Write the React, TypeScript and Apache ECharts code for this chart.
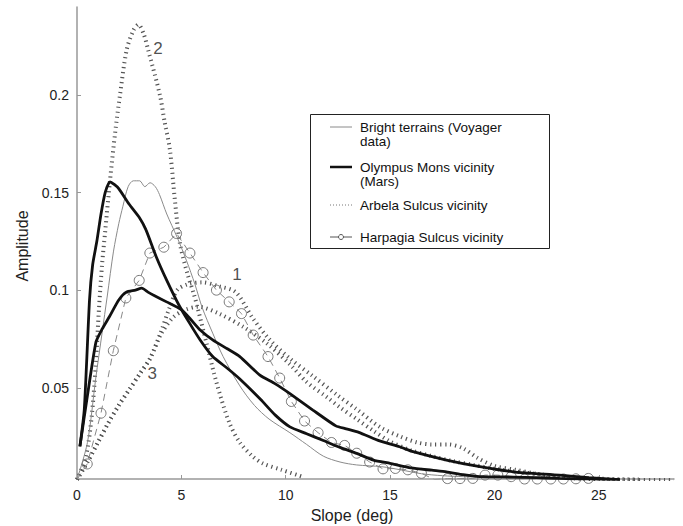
import React, { useEffect, useRef } from "react";
import * as echarts from "echarts";

// Axis tick values
const xTicks = [0, 5, 10, 15, 20, 25];
const yTicks = [0.05, 0.1, 0.15, 0.2];

// Slope-frequency curves: [slope (deg), amplitude]
const brightTerrains: [number, number][] = [
  [0, 0.003], [0.5, 0.022], [0.9, 0.055], [1.2, 0.078], [1.45, 0.097], [1.75, 0.12],
  [2.0, 0.134], [2.2, 0.143], [2.45, 0.153], [2.7, 0.156], [3.0, 0.156], [3.25, 0.153],
  [3.5, 0.155], [3.75, 0.153], [3.95, 0.149], [4.3, 0.139], [4.8, 0.127], [5.25, 0.115],
  [5.65, 0.103], [6.0, 0.091], [6.5, 0.078], [7.0, 0.066], [7.8, 0.051], [8.5, 0.041],
  [9.2, 0.034], [10.2, 0.027], [11.0, 0.021], [11.8, 0.015], [12.6, 0.012], [13.4, 0.0105],
  [14.6, 0.0096], [15.5, 0.008], [16.5, 0.006], [17.5, 0.005], [18.5, 0.0045], [20, 0.004],
  [22, 0.0035], [24, 0.003], [25, 0.003],
];

const olympusSharp: [number, number][] = [
  [0.14, 0.02], [0.35, 0.039], [0.6, 0.095], [0.75, 0.113], [0.95, 0.125], [1.15, 0.139],
  [1.35, 0.15], [1.58, 0.1555], [1.8, 0.154], [2.0, 0.152], [2.5, 0.144], [3.0, 0.137],
  [3.3, 0.131], [3.8, 0.117], [4.3, 0.105], [4.9, 0.092], [5.4, 0.083], [5.9, 0.0745],
  [6.5, 0.066], [7.2, 0.06], [7.8, 0.0545], [8.8, 0.044], [9.5, 0.036], [10.2, 0.03],
  [11.0, 0.0265], [11.8, 0.023], [12.6, 0.0195], [13.4, 0.0164], [14.2, 0.013], [15.0, 0.0113],
  [16.0, 0.009], [17.0, 0.0078], [17.7, 0.007], [18.5, 0.0055], [19.3, 0.0045], [20.9, 0.0043],
  [22, 0.004], [23.1, 0.0036], [24.5, 0.0032], [26, 0.0028],
];

const olympusBroad: [number, number][] = [
  [0.14, 0.02], [0.5, 0.046], [0.91, 0.0735], [1.2, 0.08], [1.55, 0.0864], [2.0, 0.095],
  [2.36, 0.099], [2.8, 0.1], [3.1, 0.101], [3.4, 0.099], [3.65, 0.0975], [4.29, 0.094],
  [5.0, 0.09], [5.45, 0.085], [5.9, 0.0796], [6.5, 0.0745], [7.2, 0.07], [7.8, 0.066],
  [8.76, 0.0565], [9.5, 0.052], [10.2, 0.047], [11.3, 0.0386], [12.4, 0.0305], [12.9, 0.029],
  [13.5, 0.0272], [14.5, 0.0228], [15.45, 0.0198], [16.1, 0.0173], [17.7, 0.013], [19.3, 0.0096],
  [20.9, 0.007], [23.1, 0.0053], [24.5, 0.004], [26, 0.003],
];

const arbela1: [number, number][] = [
  [0, 0.003], [0.5, 0.012], [1, 0.022], [1.5, 0.032], [2, 0.041], [2.5, 0.049], [3, 0.057],
  [3.5, 0.065], [4, 0.078], [4.4, 0.09], [4.8, 0.1], [5.3, 0.103], [6.0, 0.104], [6.8, 0.102],
  [7.6, 0.099], [8.4, 0.086], [9.2, 0.075], [10.2, 0.065], [11.3, 0.056], [12.5, 0.046],
  [13.4, 0.039], [14.5, 0.03], [15.5, 0.025], [16.3, 0.022], [17, 0.021], [17.8, 0.021],
  [18.5, 0.019], [19.2, 0.014], [20, 0.01], [21, 0.008], [22, 0.006], [23, 0.0045],
  [24, 0.0035], [25, 0.003], [28.6, 0.0028],
];

const arbela2: [number, number][] = [
  [0, 0.003], [0.43, 0.015], [0.7, 0.035], [0.9, 0.062], [1.05, 0.09], [1.2, 0.113],
  [1.34, 0.129], [1.58, 0.156], [1.82, 0.18], [2.06, 0.2], [2.38, 0.223], [2.7, 0.233],
  [2.94, 0.236], [3.2, 0.231], [3.41, 0.223], [3.97, 0.2], [4.2, 0.186], [4.45, 0.172],
  [4.69, 0.146], [4.93, 0.124], [5.3, 0.108], [5.6, 0.098], [5.8, 0.09], [6.2, 0.073],
  [6.7, 0.052], [7.3, 0.032], [7.8, 0.022], [8.4, 0.015], [8.9, 0.0113], [9.8, 0.008],
  [10.8, 0.0045],
];

const arbela3: [number, number][] = [
  [0, 0.003], [0.5, 0.012], [1, 0.022], [1.5, 0.032], [2, 0.041], [2.5, 0.049], [3, 0.057],
  [3.5, 0.065], [4, 0.077], [4.6, 0.086], [5.2, 0.09], [5.8, 0.0915], [6.8, 0.088], [8.0, 0.081],
  [9.1, 0.0727], [10.2, 0.062], [11.0, 0.053], [12.0, 0.045], [12.6, 0.04], [13.4, 0.034],
  [14.2, 0.028], [15, 0.0225], [16, 0.018], [17, 0.015], [18, 0.0125], [19, 0.0105],
  [20, 0.0085], [21.5, 0.0065], [23, 0.0048], [25, 0.0035], [27, 0.003],
];

// Harpagia Sulcus samples (circles)
const harpagiaSlope = [
  0.49, 1.15, 1.74, 2.34, 2.98, 3.49, 4.16, 4.77, 5.41, 6.04, 6.68, 7.29, 7.88, 8.44, 9.15,
  9.71, 10.27, 10.9, 11.55, 12.19, 12.82, 13.4, 14.02, 14.66, 15.25, 15.85, 16.5, 17.13,
  17.75, 18.35, 18.96, 19.55, 20.16, 20.8, 21.44, 22.05, 22.7, 23.3, 23.9, 24.5,
];
const harpagiaAmp = [
  0.011, 0.037, 0.069, 0.096, 0.105, 0.119, 0.122, 0.129, 0.119, 0.109, 0.1, 0.094, 0.088,
  0.077, 0.066, 0.055, 0.043, 0.033, 0.027, 0.022, 0.0205, 0.0165, 0.012, 0.0085, 0.0087,
  0.008, 0.0062, 0.003, 0.0035, 0.0035, 0.0036, 0.0053, 0.0053, 0.0045, 0.0033, 0.0033,
  0.0033, 0.0033, 0.0034, 0.0036,
];

// Curve numbers placed next to the Arbela Sulcus curves
const curveTags = [
  { name: "1", value: [7.66, 0.108] },
  { name: "2", value: [3.88, 0.224] },
  { name: "3", value: [3.6, 0.0575] },
];

const FONT = '"Liberation Sans", Arial, Helvetica, sans-serif';
const DOTTED = { width: 4, type: [1.2, 3.8], cap: "butt", color: "#555" };

export default function App() {
  const ref = useRef<HTMLDivElement>(null);

  useEffect(() => {
    if (!ref.current) return;
    const chart = echarts.init(ref.current, null, { renderer: "svg" });

    const harpagiaData: any[] = [{ value: [0, 0.003], symbol: "none" }];
    harpagiaSlope.forEach((s, i) => harpagiaData.push({ value: [s, harpagiaAmp[i]] }));

    const legendText = (text: string, y: number) => ({
      type: "text",
      x: 360,
      y,
      z: 101,
      style: { text, fill: "#111", fontSize: 13.5, fontFamily: FONT, verticalAlign: "middle", align: "left" },
    });

    chart.setOption({
      animation: false,
      backgroundColor: "#fff",
      grid: { left: 77, right: 9, top: 7, bottom: 47 },
      xAxis: {
        type: "value",
        min: 0,
        max: 28.6,
        axisLine: { show: true, lineStyle: { color: "#999", width: 1.5 } },
        axisTick: { show: true, inside: true, length: 4, lineStyle: { color: "#999" }, customValues: xTicks },
        axisLabel: { color: "#222", fontSize: 14, fontFamily: FONT, margin: 9, customValues: xTicks },
        splitLine: { show: false },
      },
      yAxis: {
        type: "value",
        min: 0.0033,
        max: 0.245,
        axisLine: { show: true, lineStyle: { color: "#999", width: 1.5 } },
        axisTick: { show: true, inside: true, length: 4, lineStyle: { color: "#999" }, customValues: yTicks },
        axisLabel: {
          color: "#222",
          fontSize: 14,
          fontFamily: FONT,
          margin: 8,
          customValues: yTicks,
          formatter: (v: number) => String(+v.toFixed(3)),
        },
        splitLine: { show: false },
      },
      series: [
        { name: "Arbela 1", type: "line", data: arbela1, showSymbol: false, symbol: "none", smooth: 0.3, lineStyle: DOTTED, z: 1 },
        { name: "Arbela 2", type: "line", data: arbela2, showSymbol: false, symbol: "none", smooth: 0.3, lineStyle: DOTTED, z: 1 },
        { name: "Arbela 3", type: "line", data: arbela3, showSymbol: false, symbol: "none", smooth: 0.3, lineStyle: DOTTED, z: 1 },
        {
          name: "Bright terrains",
          type: "line",
          data: brightTerrains,
          symbol: "none",
          smooth: 0.3,
          lineStyle: { width: 1, color: "#8a8a8a" },
          z: 2,
        },
        {
          name: "Harpagia Sulcus",
          type: "line",
          data: harpagiaData,
          symbol: "circle",
          symbolSize: 10,
          showAllSymbol: true,
          itemStyle: { color: "rgba(0,0,0,0)", borderColor: "#777", borderWidth: 1 },
          lineStyle: { width: 1, color: "#888", type: [7, 5] },
          z: 3,
        },
        {
          name: "Olympus Mons sharp",
          type: "line",
          data: olympusSharp,
          symbol: "none",
          smooth: 0.2,
          lineStyle: { width: 2.8, color: "#111" },
          z: 4,
        },
        {
          name: "Olympus Mons broad",
          type: "line",
          data: olympusBroad,
          symbol: "none",
          smooth: 0.2,
          lineStyle: { width: 2.8, color: "#111" },
          z: 4,
        },
        {
          name: "tags",
          type: "scatter",
          data: curveTags,
          symbolSize: 0,
          label: {
            show: true,
            position: "inside",
            formatter: (p: any) => p.name,
            color: "#222",
            fontSize: 17,
            fontFamily: FONT,
          },
          z: 5,
        },
      ],
      graphic: [
        {
          type: "rect",
          z: 100,
          shape: { x: 310.5, y: 114.5, width: 239, height: 134 },
          style: { fill: "#fff", stroke: "#222", lineWidth: 1 },
        },
        { type: "line", z: 101, shape: { x1: 330, y1: 127, x2: 352, y2: 127 }, style: { stroke: "#8a8a8a", lineWidth: 1 } },
        legendText("Bright terrains (Voyager", 127),
        legendText("data)", 141),
        { type: "line", z: 101, shape: { x1: 330, y1: 167, x2: 352, y2: 167 }, style: { stroke: "#111", lineWidth: 2.5 } },
        legendText("Olympus Mons vicinity", 167),
        legendText("(Mars)", 181),
        {
          type: "line",
          z: 101,
          shape: { x1: 330, y1: 205, x2: 352, y2: 205 },
          style: { stroke: "#777", lineWidth: 1, lineDash: [1, 2] },
        },
        legendText("Arbela Sulcus vicinity", 205),
        { type: "line", z: 101, shape: { x1: 330, y1: 237, x2: 352, y2: 237 }, style: { stroke: "#555", lineWidth: 1 } },
        { type: "circle", z: 102, shape: { cx: 341, cy: 237, r: 2.5 }, style: { fill: "#fff", stroke: "#555", lineWidth: 1 } },
        legendText("Harpagia Sulcus vicinity", 237),
        {
          type: "text",
          x: 352,
          y: 515,
          style: { text: "Slope (deg)", fill: "#222", fontSize: 16, fontFamily: FONT, align: "center", verticalAlign: "middle" },
        },
        {
          type: "text",
          x: 22,
          y: 246,
          rotation: Math.PI / 2,
          style: { text: "Amplitude", fill: "#222", fontSize: 16, fontFamily: FONT, align: "center", verticalAlign: "middle" },
        },
      ],
    });

    return () => chart.dispose();
  }, []);

  return (
    <div
      ref={ref}
      style={{ position: "fixed", left: 0, top: 0, width: 683, height: 526, background: "#fff" }}
    />
  );
}
